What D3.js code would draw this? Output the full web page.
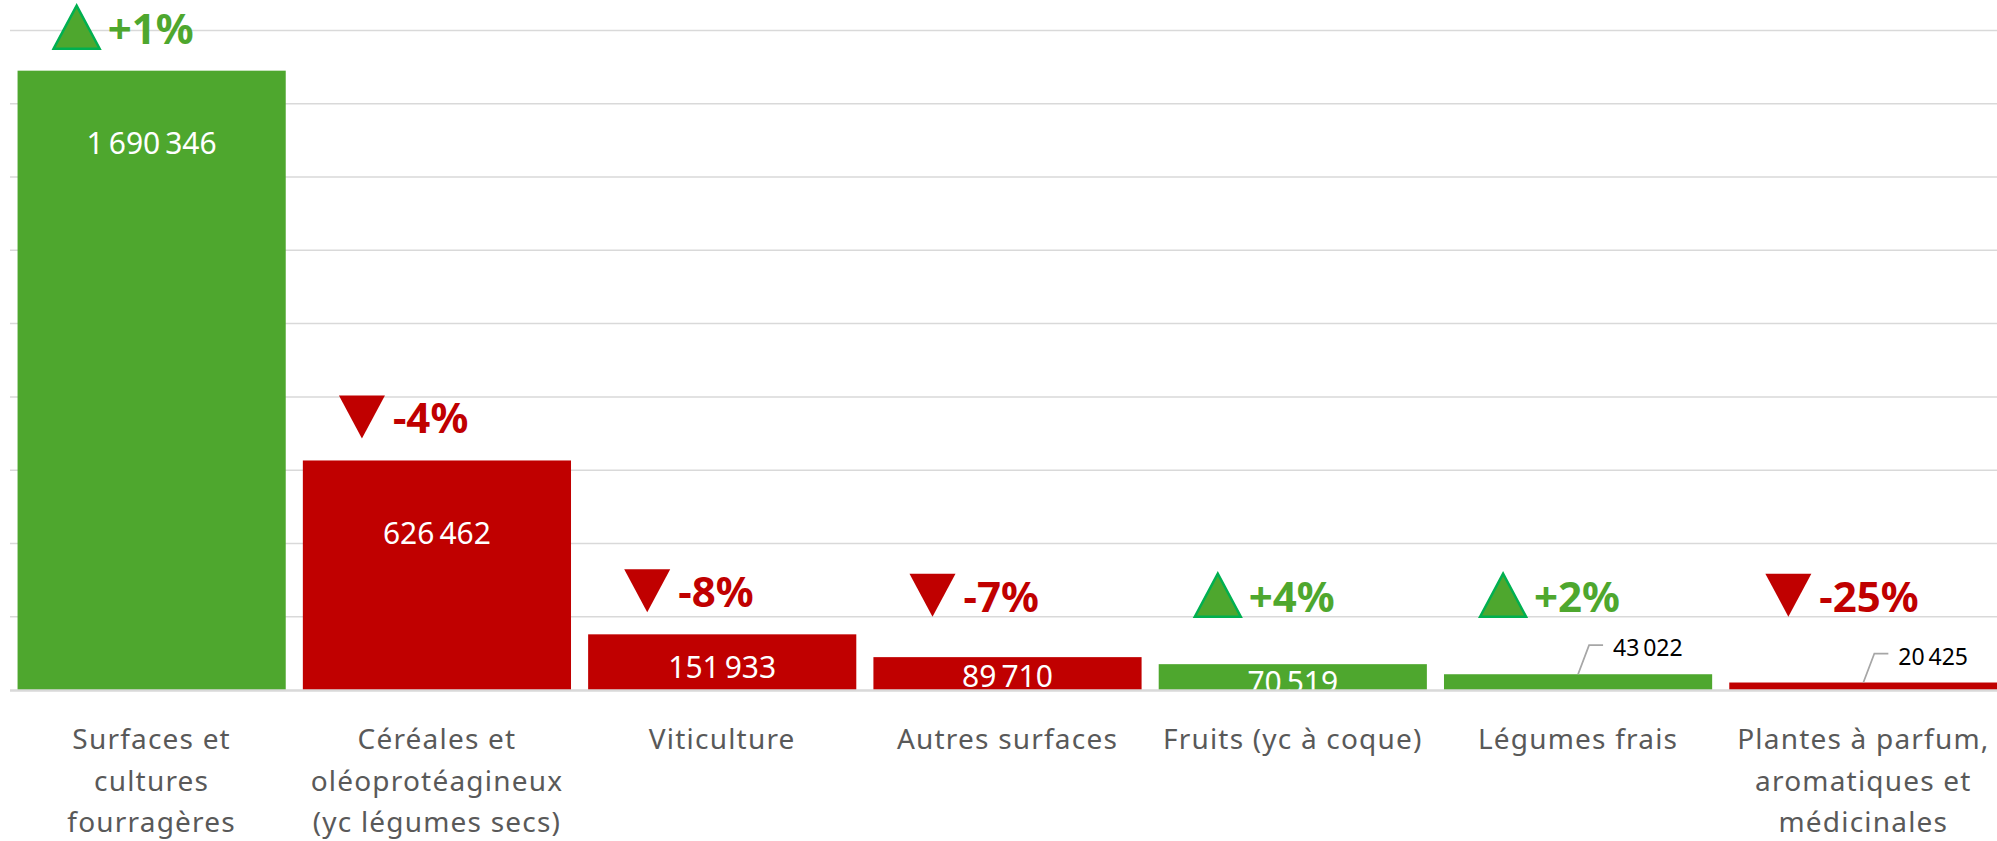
<!DOCTYPE html>
<html>
<head>
<meta charset="utf-8">
<script src="https://cdn.jsdelivr.net/npm/d3@7"></script>
<style>
  body { margin: 0; background: #fff; }
  svg { display: block; }
</style>
</head>
<body>
<div id="chart"></div>
<script>
// data
var categories = [
  "Surfaces et\ncultures\nfourragères",
  "Céréales et\noléoprotéagineux\n(yc légumes secs)",
  "Viticulture",
  "Autres surfaces",
  "Fruits (yc à coque)",
  "Légumes frais",
  "Plantes à parfum,\naromatiques et\nmédicinales"
];
var values = [1690346, 626462, 151933, 89710, 70519, 43022, 20425];
var changes = [1, -4, -8, -7, 4, 2, -25];   // évolution en %

var width = 1997, height = 841;
var green = "#4ea72e", red = "#c00000";
var font = "'Noto Sans', 'Open Sans', sans-serif";

var fr = d3.formatLocale({decimal: ",", thousands: "\u202f", grouping: [3], currency: ["", " €"]});
var fmt = fr.format(",d");

var svg = d3.select("#chart")
  .append("svg")
  .attr("width", width)
  .attr("height", height);

// scales
var x = d3.scaleBand()
  .domain(d3.range(values.length))
  .range([9, 2006])
  .paddingInner(0.06)
  .paddingOuter(0.03);

var y = d3.scaleLinear()
  .domain([0, 1800000])
  .range([690, 30.5]);

var color = function(i) { return changes[i] >= 0 ? green : red; };
var cx = function(i) { return x(i) + x.bandwidth() / 2; };

// horizontal gridlines
svg.append("g")
  .selectAll("line")
  .data(y.ticks(9).slice(1))
  .enter()
  .append("line")
  .attr("x1", 10)
  .attr("x2", width)
  .attr("y1", function(d) { return y(d); })
  .attr("y2", function(d) { return y(d); })
  .attr("stroke", "#d9d9d9")
  .attr("stroke-width", 1.5);

// bars
svg.append("g")
  .selectAll("rect")
  .data(values)
  .enter()
  .append("rect")
  .attr("x", function(d, i) { return x(i); })
  .attr("y", function(d) { return y(d); })
  .attr("width", x.bandwidth())
  .attr("height", function(d) { return y(0) - y(d); })
  .attr("fill", function(d, i) { return color(i); });

// baseline
svg.append("line")
  .attr("x1", 10)
  .attr("x2", width)
  .attr("y1", y(0) + 0.5)
  .attr("y2", y(0) + 0.5)
  .attr("stroke", "#d9d9d9")
  .attr("stroke-width", 2.5);

// value labels inside the bars (clipped at the axis)
svg.append("clipPath")
  .attr("id", "plot-clip")
  .append("rect")
  .attr("x", 0).attr("y", 0)
  .attr("width", width).attr("height", y(0) - 0.5);

var idx = d3.range(values.length);
var inside = idx.filter(function(i) { return y(0) - y(values[i]) >= 20; });
var outside = idx.filter(function(i) { return y(0) - y(values[i]) < 20; });

svg.append("g")
  .attr("clip-path", "url(#plot-clip)")
  .selectAll("text")
  .data(inside)
  .enter()
  .append("text")
  .attr("x", cx)
  .attr("y", function(i) {
    var h = y(0) - y(values[i]);
    return y(values[i]) + Math.min(73, Math.max(18, h * 0.6));
  })
  .attr("dy", "0.35em")
  .attr("text-anchor", "middle")
  .style("font-family", font)
  .style("font-size", "30px")
  .style("fill", "#fff")
  .text(function(i) { return fmt(values[i]); });

// callout labels for the thin bars
var callouts = svg.append("g")
  .selectAll("g")
  .data(outside)
  .enter()
  .append("g");

callouts.append("path")
  .attr("d", function(i) {
    var t = y(values[i]), c = cx(i);
    return "M" + c + "," + t + "L" + (c + 11) + "," + (t - 29) + "L" + (c + 25) + "," + (t - 29);
  })
  .attr("fill", "none")
  .attr("stroke", "#a6a6a6")
  .attr("stroke-width", 1.75);

callouts.append("text")
  .attr("x", function(i) { return cx(i) + 35; })
  .attr("y", function(i) { return y(values[i]) - 26; })
  .attr("dy", "0.35em")
  .style("font-family", font)
  .style("font-size", "23px")
  .style("fill", "#000")
  .text(function(i) { return fmt(values[i]); });

// change indicators (triangle + percentage)
var ind = svg.append("g")
  .selectAll("g")
  .data(idx)
  .enter()
  .append("g")
  .attr("transform", function(i) {
    var bottom = Math.min(y(200000), y(values[i]) - 22);
    return "translate(" + (cx(i) - 75) + "," + bottom + ")";
  });

ind.append("path")
  .attr("d", function(i) {
    return changes[i] >= 0 ? "M-23,0L0,-43L23,0Z" : "M-23,-43L23,-43L0,0Z";
  })
  .attr("fill", color)
  .attr("stroke", function(i) { return changes[i] >= 0 ? "#00b050" : "none"; })
  .attr("stroke-width", 2.5)
  .attr("stroke-linejoin", "miter");

ind.append("text")
  .attr("x", 31)
  .attr("y", -5)
  .style("font-family", font)
  .style("font-weight", "bold")
  .style("font-size", "42px")
  .style("fill", color)
  .text(function(i) { return (changes[i] > 0 ? "+" : "") + changes[i] + "%"; });

// category labels
var cat = svg.append("g")
  .selectAll("text")
  .data(idx)
  .enter()
  .append("text")
  .attr("text-anchor", "middle")
  .style("font-family", font)
  .style("font-size", "28px")
  .style("letter-spacing", "1.2px")
  .style("fill", "#595959");

cat.selectAll("tspan")
  .data(function(i) {
    return categories[i].split("\n").map(function(s) { return {i: i, s: s}; });
  })
  .enter()
  .append("tspan")
  .attr("x", function(d) { return cx(d.i); })
  .attr("y", function(d, k) { return 749 + k * 41.7; })
  .text(function(d) { return d.s; });
</script>
</body>
</html>
